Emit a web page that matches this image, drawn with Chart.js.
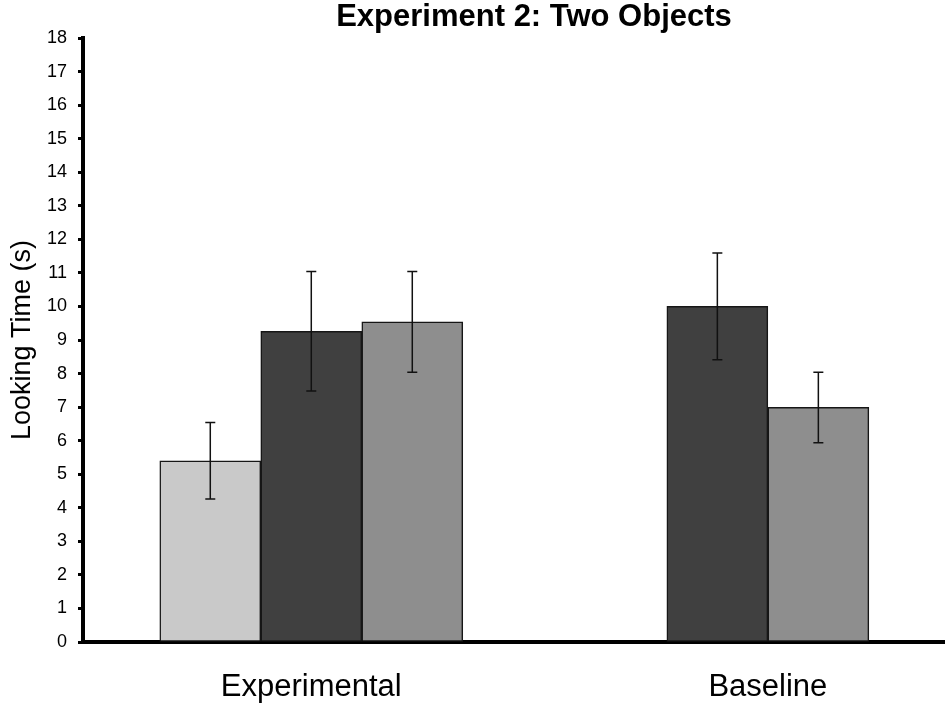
<!DOCTYPE html>
<html>
<head>
<meta charset="utf-8">
<script src="https://cdn.jsdelivr.net/npm/chart.js@4/dist/chart.umd.min.js"></script>
<style>
  html, body { margin: 0; padding: 0; background: #fff; }
  #wrap { width: 945px; height: 708px; }
</style>
</head>
<body>
<div id="wrap"><canvas id="myChart" width="945" height="708"></canvas></div>
<script>
// groups along the x axis
const groupNames = ["Experimental", "Baseline"];
const groupPos = [1, 2];

// mean looking time (s) per condition, one value per group
const lightValues = [5.4, null];
const darkValues = [9.26, 10.0];
const mediumValues = [9.54, 6.99];

// +/- error per bar
const lightErr = [1.14, null];
const darkErr = [1.78, 1.59];
const mediumErr = [1.5, 1.05];

const yTicks = [0, 18, 1];
const chartTitle = "Experiment 2: Two Objects";
const yTitle = "Looking Time (s)";

const FONT = "'Liberation Sans', Arial, sans-serif";

const toPoints = (vals) => vals.map((v, i) => ({ x: groupPos[i], y: v }));

const errorBars = {
  id: "errorBars",
  afterDatasetsDraw(chart) {
    const { ctx } = chart;
    const yScale = chart.scales.y;
    chart.data.datasets.forEach((ds, d) => {
      const meta = chart.getDatasetMeta(d);
      meta.data.forEach((bar, i) => {
        const v = ds.data[i].y;
        const e = ds.errors[i];
        if (v == null || e == null) return;
        const top = yScale.getPixelForValue(v + e);
        const bot = yScale.getPixelForValue(v - e);
        ctx.save();
        ctx.strokeStyle = "#111";
        ctx.lineWidth = 1.5;
        ctx.beginPath();
        ctx.moveTo(bar.x, top);
        ctx.lineTo(bar.x, bot);
        ctx.moveTo(bar.x - 5, top);
        ctx.lineTo(bar.x + 5, top);
        ctx.moveTo(bar.x - 5, bot);
        ctx.lineTo(bar.x + 5, bot);
        ctx.stroke();
        ctx.restore();
      });
    });
  },
};

const topTitle = {
  id: "topTitle",
  afterDraw(chart) {
    const { ctx } = chart;
    ctx.save();
    ctx.font = "bold 31px " + FONT;
    ctx.fillStyle = "#000";
    ctx.textAlign = "center";
    ctx.textBaseline = "alphabetic";
    ctx.fillText(chartTitle, 534, 26);
    ctx.restore();
  },
};

const barStyle = (color) => ({
  backgroundColor: color,
  borderColor: "#161616",
  borderWidth: 1.5,
  borderSkipped: false,
  barThickness: 101,
  skipNull: true,
});

new Chart(document.getElementById("myChart"), {
  type: "bar",
  data: {
    datasets: [
      { label: "Condition 1", data: toPoints(lightValues), errors: lightErr, ...barStyle("#c9c9c9") },
      { label: "Condition 2", data: toPoints(darkValues), errors: darkErr, ...barStyle("#404040") },
      { label: "Condition 3", data: toPoints(mediumValues), errors: mediumErr, ...barStyle("#8e8e8e") },
    ],
  },
  plugins: [errorBars, topTitle],
  options: {
    responsive: false,
    animation: false,
    layout: { padding: { top: 38, right: 0, bottom: 0, left: 0 } },
    plugins: {
      legend: { display: false },
      tooltip: { enabled: false },
      title: { display: false },
    },
    scales: {
      x: {
        type: "linear",
        min: 0.5,
        max: 2.388,
        offset: false,
        bounds: "ticks",
        z: 1,
        afterBuildTicks: (scale) => {
          scale.ticks = groupPos.map((p) => ({ value: p }));
        },
        afterFit: (scale) => {
          scale.height = 66;
        },
        grid: { display: false, drawTicks: false },
        border: { display: true, color: "#000", width: 4 },
        ticks: {
          color: "#000",
          font: { family: FONT, size: 31 },
          padding: 27,
          maxRotation: 0,
          autoSkip: false,
          callback: (v) => groupNames[groupPos.indexOf(v)],
        },
      },
      y: {
        min: yTicks[0],
        max: yTicks[1],
        z: 1,
        afterFit: (scale) => {
          scale.width = 83;
        },
        grid: {
          drawOnChartArea: false,
          drawTicks: true,
          tickLength: 5,
          tickWidth: 3,
          tickColor: "#000",
        },
        border: { display: true, color: "#000", width: 4 },
        ticks: {
          stepSize: yTicks[2],
          color: "#000",
          padding: 11,
          font: { family: FONT, size: 18 },
        },
        title: {
          display: true,
          text: yTitle,
          color: "#000",
          font: { family: FONT, size: 27 },
          padding: { top: 6, bottom: 0 },
        },
      },
    },
  },
});
</script>
</body>
</html>
